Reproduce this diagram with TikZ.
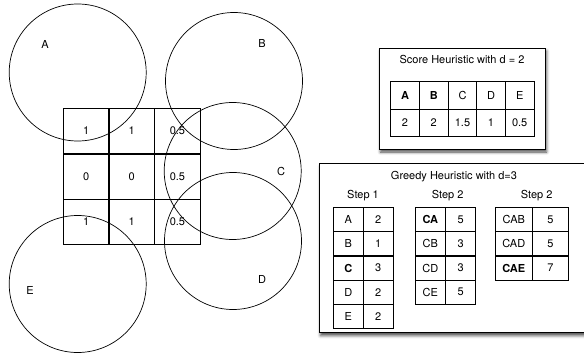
\documentclass[tikz,border=0pt]{standalone}
\usepackage{fontspec}
\setmainfont{TeX Gyre Heros}
\usetikzlibrary{shadows.blur}

\begin{document}
\begin{tikzpicture}[x=1pt, y=-1pt, font=\fontsize{11}{13}\selectfont]
\tikzset{el/.style={draw, rectangle, line width=0.9pt, inner sep=0pt},
  cell/.style={el, minimum width=45.6pt, minimum height=45.3pt},
  area/.style={draw, circle, line width=0.7pt, minimum size=137pt, inner sep=0pt},
  panel/.style={draw, rectangle, line width=0.9pt, fill=white,
    blur shadow={shadow xshift=1.5pt, shadow yshift=-3pt, shadow blur radius=3pt,
      shadow opacity=70}}}

\useasboundingbox (0,0) rectangle (584,353);

% Grid of values
\node[cell] (g11) at (86.1,131.1) {1};
\node[cell] (g12) at (131.8,131.1) {1};
\node[cell] (g13) at (177.4,131.1) {0.5};
\node[cell] (g21) at (86.1,176.6) {0};
\node[cell] (g22) at (131.8,176.6) {0};
\node[cell] (g23) at (177.4,176.6) {0.5};
\node[cell] (g31) at (86.1,221.9) {1};
\node[cell] (g32) at (131.8,221.9) {1};
\node[cell] (g33) at (177.4,221.9) {0.5};

% Sensor areas
\node[area] (circA) at (77.7,72.5) {};
\node[area] (circB) at (234,81) {};
\node[area] (circC) at (232.7,171) {};
\node[area] (circD) at (233,241) {};
\node[area] (circE) at (77.7,284) {};

\node (labA) at (45,44) {A};
\node (labB) at (262,43) {B};
\node (labC) at (281,171) {C};
\node (labD) at (262,279) {D};
\node (labE) at (30,290) {E};

% Score heuristic panel
\node[panel, minimum width=166pt, minimum height=101pt] (score) at (462,98.5) {};
\node (scoretitle) at (462,59) {Score Heuristic with d = 2};

\tikzset{sc/.style={el, minimum width=28.7pt, minimum height=27.5pt}}
\node[sc] (sA) at (405,95.5) {\bfseries A};
\node[sc] (sB) at (433.8,95.5) {\bfseries B};
\node[sc] (sC) at (462.5,95.5) {C};
\node[sc] (sD) at (491,95.5) {D};
\node[sc] (sE) at (519.7,95.5) {E};
\node[sc] (vA) at (405,123) {2};
\node[sc] (vB) at (433.8,123) {2};
\node[sc] (vC) at (462.5,123) {1.5};
\node[sc] (vD) at (491,123) {1};
\node[sc] (vE) at (519.7,123) {0.5};

% Greedy heuristic panel
\node[panel, minimum width=277pt, minimum height=169pt] (greedy) at (457.5,248.1) {};
\node (greedytitle) at (454,176.7) {Greedy Heuristic with d=3};
\node (step1) at (363,196) {Step 1};
\node (step2) at (447.7,196) {Step 2};
\node (step3) at (536.7,196) {Step 2};

\tikzset{gc/.style={el, minimum width=30pt, minimum height=24.4pt}}
% Step 1
\node[gc] (a1) at (348.3,219.5) {A};
\node[gc] (a1v) at (378.3,219.5) {2};
\node[gc] (b1) at (348.3,243.8) {B};
\node[gc] (b1v) at (378.3,243.8) {1};
\node[gc] (c1) at (348.3,268) {\bfseries C};
\node[gc] (c1v) at (378.3,268) {3};
\node[gc] (d1) at (348.3,292.2) {D};
\node[gc] (d1v) at (378.3,292.2) {2};
\node[gc] (e1) at (348.3,316.7) {E};
\node[gc] (e1v) at (378.3,316.7) {2};

% Step 2
\node[gc, minimum width=30.7pt] (ca2) at (430.3,219.5) {\bfseries CA};
\node[gc] (ca2v) at (460.7,219.5) {5};
\node[gc, minimum width=30.7pt] (cb2) at (430.3,243.8) {CB};
\node[gc] (cb2v) at (460.7,243.8) {3};
\node[gc, minimum width=30.7pt] (cd2) at (430.3,268) {CD};
\node[gc] (cd2v) at (460.7,268) {3};
\node[gc, minimum width=30.7pt] (ce2) at (430.3,292.2) {CE};
\node[gc] (ce2v) at (460.7,292.2) {5};

% Step 3
\node[gc, minimum width=37.7pt] (cab3) at (513.8,219.5) {CAB};
\node[gc, minimum width=35.6pt] (cab3v) at (550.5,219.5) {5};
\node[gc, minimum width=37.7pt] (cad3) at (513.8,243.8) {CAD};
\node[gc, minimum width=35.6pt] (cad3v) at (550.5,243.8) {5};
\node[gc, minimum width=37.7pt] (cae3) at (513.8,268) {\bfseries CAE};
\node[gc, minimum width=35.6pt] (cae3v) at (550.5,268) {7};

\end{tikzpicture}
\end{document}
